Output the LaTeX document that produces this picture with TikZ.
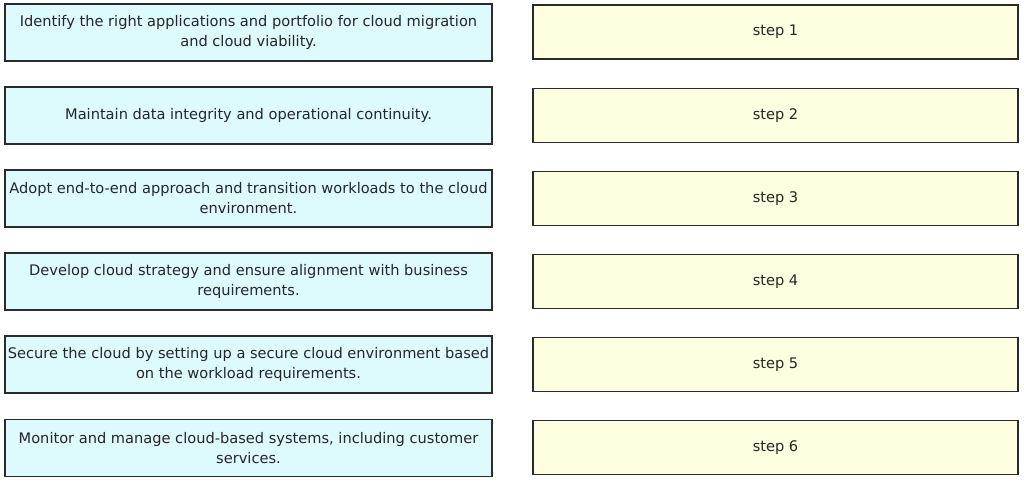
\documentclass[tikz,border=0pt]{standalone}
\usepackage{fontspec}
\setmainfont{DejaVu Sans}
\definecolor{cyanfill}{HTML}{DDFAFC}
\definecolor{yelfill}{HTML}{FEFEE0}
\definecolor{edge}{HTML}{2B2B2B}
\definecolor{txt}{HTML}{262626}
\begin{document}
\begin{tikzpicture}[x=1pt,y=-1pt,
  leftbox/.style={draw=edge,line width=1.6pt,fill=cyanfill,minimum width=487pt,minimum height=57pt,inner sep=0pt,align=center,text=txt,font=\fontsize{14.6}{20}\selectfont},
  rightbox/.style={draw=edge,line width=1.6pt,fill=yelfill,minimum width=485pt,minimum height=54pt,inner sep=0pt,align=center,text=txt,font=\fontsize{14.6}{20}\selectfont}]
\useasboundingbox[fill=white] (0,0) rectangle (1024,484);
\node[leftbox] (l1) at (248.5,32.5) {Identify the right applications and portfolio for cloud migration\\and cloud viability.};
\node[leftbox] (l2) at (248.5,115.5) {Maintain data integrity and operational continuity.};
\node[leftbox] (l3) at (248.5,198.5) {Adopt end-to-end approach and transition workloads to the cloud\\environment.};
\node[leftbox] (l4) at (248.5,281.5) {Develop cloud strategy and ensure alignment with business\\requirements.};
\node[leftbox] (l5) at (248.5,364.5) {Secure the cloud by setting up a secure cloud environment based\\on the workload requirements.};
\node[leftbox] (l6) at (248.5,448) {Monitor and manage cloud-based systems, including customer\\services.};
\node[rightbox] (r1) at (775.5,32) {step 1};
\node[rightbox] (r2) at (775.5,115.5) {step 2};
\node[rightbox] (r3) at (775.5,198.5) {step 3};
\node[rightbox] (r4) at (775.5,281.5) {step 4};
\node[rightbox] (r5) at (775.5,364.5) {step 5};
\node[rightbox] (r6) at (775.5,447.5) {step 6};
\end{tikzpicture}
\end{document}
